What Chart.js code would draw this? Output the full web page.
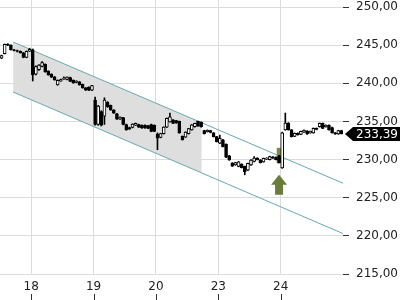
<!DOCTYPE html>
<html>
<head>
<meta charset="utf-8">
<script src="https://cdn.jsdelivr.net/npm/chart.js@4.4.1/dist/chart.umd.min.js"></script>
<style>
  html, body { margin: 0; padding: 0; background: #fff; }
  #wrap { width: 400px; height: 300px; }
</style>
</head>
<body>
<div id="wrap"><canvas id="priceChart" width="400" height="300"></canvas></div>
<script>
// Day labels and the candle index where each trading day starts (20 candles per day)
const dayLabels = ['18', '19', '20', '23', '24'];
const dayStarts = [10, 30, 50, 70, 90];

// Price axis ticks
const priceTicks = [215, 220, 225, 230, 235, 240, 245, 250];

// Candles
const opens = [
  243.3, 243.9, 245.1, 245.0, 244.4, 244.3, 244.2, 244.0, 243.4, 244.2,
  244.4, 241.2, 241.8, 242.2, 242.5, 241.6, 241.2, 240.85, 239.8, 240.3,
  240.55, 240.5, 240.75, 240.4, 240.1, 240.2, 239.85, 239.4, 239.5, 239.1,
  237.8, 234.6, 236.3, 235.7, 237.5, 237.1, 236.5, 236.0, 235.3, 235.5,
  234.6, 234.2, 234.2, 234.5, 234.6, 234.5, 234.5, 234.45, 234.6, 234.5,
  233.3, 232.9, 233.4, 234.25, 234.95, 235.2, 235.1, 235.0, 233.05, 232.95,
  233.4, 233.9, 234.3, 235.0, 234.9, 233.8, 233.65, 233.8, 233.5, 233.0,
  232.15, 232.6, 232.0, 230.5, 229.55, 229.3, 229.1, 229.4, 229.1, 228.6,
  229.3, 229.75, 230.2, 229.95, 229.7, 230.05, 230.0, 230.35, 230.3, 230.5,
  228.9, 233.9, 234.8, 233.9, 233.05, 233.45, 233.3, 233.6, 233.75, 233.5,
  233.5, 234.1, 234.3, 234.75, 234.3, 234.5, 234.2, 233.5, 233.35, 233.8
];
const closes = [
  243.65, 245.1, 245.0, 244.4, 244.3, 244.2, 244.0, 243.4, 244.2, 244.45,
  241.1, 242.2, 242.4, 242.7, 241.5, 241.1, 240.8, 240.45, 240.4, 240.5,
  240.7, 240.8, 240.25, 240.05, 240.3, 239.8, 239.4, 239.1, 239.1, 239.7,
  234.6, 237.0, 234.5, 237.8, 236.9, 236.5, 236.1, 235.3, 235.55, 234.6,
  233.9, 234.0, 234.65, 234.75, 234.25, 234.15, 234.15, 234.1, 233.7, 233.7,
  232.8, 233.4, 234.25, 235.4, 235.6, 234.75, 234.8, 233.5, 232.6, 233.6,
  234.05, 234.55, 234.75, 234.4, 234.3, 233.4, 233.85, 233.55, 233.0, 232.35,
  232.8, 231.7, 230.3, 229.95, 229.15, 229.6, 229.7, 228.95, 228.4, 229.5,
  229.95, 230.2, 230.0, 229.6, 230.15, 230.2, 230.4, 230.2, 230.0, 229.6,
  233.5, 234.8, 233.9, 233.0, 233.45, 233.25, 233.7, 233.85, 233.35, 233.7,
  234.1, 233.95, 234.75, 234.1, 234.5, 233.9, 233.5, 233.35, 233.8, 233.39
];
const highs = [
  243.7, 245.15, 245.2, 245.05, 244.45, 244.35, 244.25, 244.05, 244.25, 244.6,
  244.5, 242.3, 242.45, 242.85, 242.55, 241.65, 241.25, 240.9, 240.45, 240.55,
  240.85, 240.85, 240.8, 240.45, 240.35, 240.25, 239.9, 239.45, 239.55, 239.75,
  238.2, 237.1, 236.4, 238.1, 237.6, 237.15, 236.55, 236.05, 235.6, 235.55,
  234.65, 234.25, 234.7, 234.8, 234.65, 234.55, 234.55, 234.5, 234.65, 234.55,
  233.5, 233.45, 234.3, 235.45, 236.1, 235.25, 235.15, 235.05, 233.1, 233.65,
  234.1, 234.6, 234.8, 235.05, 234.95, 233.85, 233.9, 233.85, 233.55, 233.05,
  233.2, 232.65, 232.05, 230.55, 229.6, 229.65, 229.75, 229.45, 229.15, 229.55,
  230.0, 230.4, 230.25, 230.0, 230.2, 230.25, 230.45, 230.4, 230.35, 230.55,
  233.6, 236.1, 234.85, 233.95, 233.5, 233.5, 233.75, 233.9, 233.8, 233.75,
  234.15, 234.15, 234.8, 234.8, 234.55, 234.55, 234.25, 233.55, 233.85, 233.85
];
const lows = [
  243.25, 243.85, 244.95, 244.35, 244.25, 244.1, 243.95, 243.35, 243.35, 244.15,
  240.3, 241.1, 241.7, 242.15, 241.45, 241.05, 240.75, 240.4, 239.75, 240.25,
  240.5, 240.45, 240.2, 240.0, 240.05, 239.75, 239.35, 239.05, 239.05, 239.05,
  234.5, 234.5, 234.4, 234.6, 236.85, 236.45, 236.05, 235.25, 235.25, 234.55,
  233.85, 233.95, 234.15, 234.45, 234.2, 234.1, 234.1, 234.05, 233.65, 233.65,
  231.3, 232.85, 233.35, 234.2, 234.9, 234.7, 234.75, 233.45, 232.55, 232.9,
  233.35, 233.85, 234.25, 234.35, 234.25, 233.35, 233.6, 233.5, 232.95, 232.3,
  232.1, 231.65, 230.25, 229.9, 229.1, 229.25, 229.05, 228.9, 228.0, 228.55,
  229.25, 229.7, 229.95, 229.55, 229.65, 230.0, 229.95, 230.15, 229.95, 229.55,
  228.85, 233.85, 233.85, 232.95, 233.0, 233.2, 233.25, 233.55, 233.3, 233.45,
  233.45, 233.9, 234.25, 234.05, 234.25, 233.85, 233.45, 233.3, 233.3, 233.35
];
const lastPrice = 233.39;

// Trend channel (x = candle index, y = price)
const channelX = [4.2, 110];
const upperLine = [245.41, 226.9];
const lowerLine = [238.86, 220.3];
const shadeX = [4.2, 64.7];
const shadeUpper = [245.41, 234.82];
const shadeLower = [238.86, 228.24];

// Signal candle and arrow
const signalIndex = 89;
const signalBar = [229.55, 231.5];
const arrowTop = 228.0;
const arrowBottom = 225.4;

const FONT = '"DejaVu Sans", sans-serif';
const fmtPrice = v => v.toFixed(2).replace('.', ',');

const bodies = opens.map((o, i) => ({ x: i + 0.5, y: [o, closes[i]] }));
const bodyColors = opens.map((o, i) => (closes[i] >= o ? '#ffffff' : '#000000'));
const wicks = highs.map((h, i) => ({ x: i + 0.5, y: [lows[i], h] }));

// Extra drawing: tick marks under day labels, signal arrow, last price tag
const overlayPlugin = {
  id: 'overlay',
  afterDraw(chart) {
    const ctx = chart.ctx;
    const xs = chart.scales.x;
    const ys = chart.scales.y;
    ctx.save();

    ctx.strokeStyle = '#333';
    ctx.lineWidth = 1;
    dayStarts.forEach(d => {
      const px = Math.round(xs.getPixelForValue(d)) + 0.5;
      ctx.beginPath();
      ctx.moveTo(px, 294);
      ctx.lineTo(px, 300);
      ctx.stroke();
    });

    const ax = xs.getPixelForValue(signalIndex + 0.5);
    const top = ys.getPixelForValue(arrowTop);
    const bottom = ys.getPixelForValue(arrowBottom);
    const headBase = top + (bottom - top) * 0.5;
    ctx.fillStyle = '#6b7b3a';
    ctx.beginPath();
    ctx.moveTo(ax, top);
    ctx.lineTo(ax + 8, headBase);
    ctx.lineTo(ax + 4, headBase);
    ctx.lineTo(ax + 4, bottom);
    ctx.lineTo(ax - 4, bottom);
    ctx.lineTo(ax - 4, headBase);
    ctx.lineTo(ax - 8, headBase);
    ctx.closePath();
    ctx.fill();

    const py = Math.round(ys.getPixelForValue(lastPrice));
    const left = chart.chartArea.right + 2;
    ctx.fillStyle = '#000';
    ctx.beginPath();
    ctx.moveTo(left, py);
    ctx.lineTo(left + 8, py - 7);
    ctx.lineTo(400, py - 7);
    ctx.lineTo(400, py + 7);
    ctx.lineTo(left + 8, py + 7);
    ctx.closePath();
    ctx.fill();
    ctx.fillStyle = '#fff';
    ctx.font = '12px ' + FONT;
    ctx.textBaseline = 'middle';
    ctx.textAlign = 'left';
    ctx.fillText(fmtPrice(lastPrice), 356, py + 1);

    ctx.restore();
  }
};

new Chart(document.getElementById('priceChart'), {
  type: 'bar',
  data: {
    datasets: [
      {
        // candle bodies
        type: 'bar',
        data: bodies,
        backgroundColor: bodyColors,
        borderColor: '#000',
        borderWidth: 1,
        borderSkipped: false,
        barThickness: 3,
        grouped: false,
        order: 1
      },
      {
        // wicks
        type: 'bar',
        data: wicks,
        backgroundColor: '#000',
        borderWidth: 0,
        barThickness: 1,
        grouped: false,
        order: 2
      },
      {
        // signal highlight
        type: 'bar',
        data: [{ x: signalIndex + 0.5, y: signalBar }],
        backgroundColor: '#7b8b45',
        borderWidth: 0,
        barThickness: 4,
        grouped: false,
        order: 3
      },
      {
        type: 'line',
        data: channelX.map((x, i) => ({ x: x, y: upperLine[i] })),
        borderColor: '#68a9ae',
        borderWidth: 1,
        pointRadius: 0,
        fill: false,
        order: 4
      },
      {
        type: 'line',
        data: channelX.map((x, i) => ({ x: x, y: lowerLine[i] })),
        borderColor: '#68a9ae',
        borderWidth: 1,
        pointRadius: 0,
        fill: false,
        order: 5
      },
      {
        type: 'line',
        data: shadeX.map((x, i) => ({ x: x, y: shadeUpper[i] })),
        borderWidth: 0,
        pointRadius: 0,
        fill: false,
        order: 6
      },
      {
        type: 'line',
        data: shadeX.map((x, i) => ({ x: x, y: shadeLower[i] })),
        borderWidth: 0,
        pointRadius: 0,
        backgroundColor: '#dedede',
        fill: '-1',
        order: 7
      }
    ]
  },
  options: {
    responsive: false,
    animation: false,
    layout: { padding: 0 },
    plugins: {
      legend: { display: false },
      tooltip: { enabled: false }
    },
    scales: {
      x: {
        type: 'linear',
        min: 0,
        max: 110,
        offset: false,
        grid: { color: '#dcdcdc', drawTicks: false, offset: false },
        border: { display: false },
        afterBuildTicks: scale => { scale.ticks = dayStarts.map(v => ({ value: v })); },
        afterFit: scale => {
          scale.height = 26;
          scale.paddingLeft = 0;
          scale.paddingRight = 0;
        },
        ticks: {
          autoSkip: false,
          maxRotation: 0,
          padding: 6,
          color: '#222',
          font: { family: FONT, size: 12 },
          callback: v => dayLabels[dayStarts.indexOf(v)]
        }
      },
      y: {
        position: 'right',
        min: 215,
        max: 250.92,
        grid: { color: '#dcdcdc', tickColor: '#333', tickLength: 6 },
        border: { display: false },
        afterBuildTicks: scale => { scale.ticks = priceTicks.map(v => ({ value: v })); },
        afterFit: scale => {
          scale.width = 57;
          scale.paddingTop = 0;
          scale.paddingBottom = 0;
        },
        ticks: {
          padding: 7,
          color: '#222',
          font: { family: FONT, size: 12 },
          callback: v => fmtPrice(v)
        }
      }
    }
  },
  plugins: [overlayPlugin]
});
</script>
</body>
</html>
